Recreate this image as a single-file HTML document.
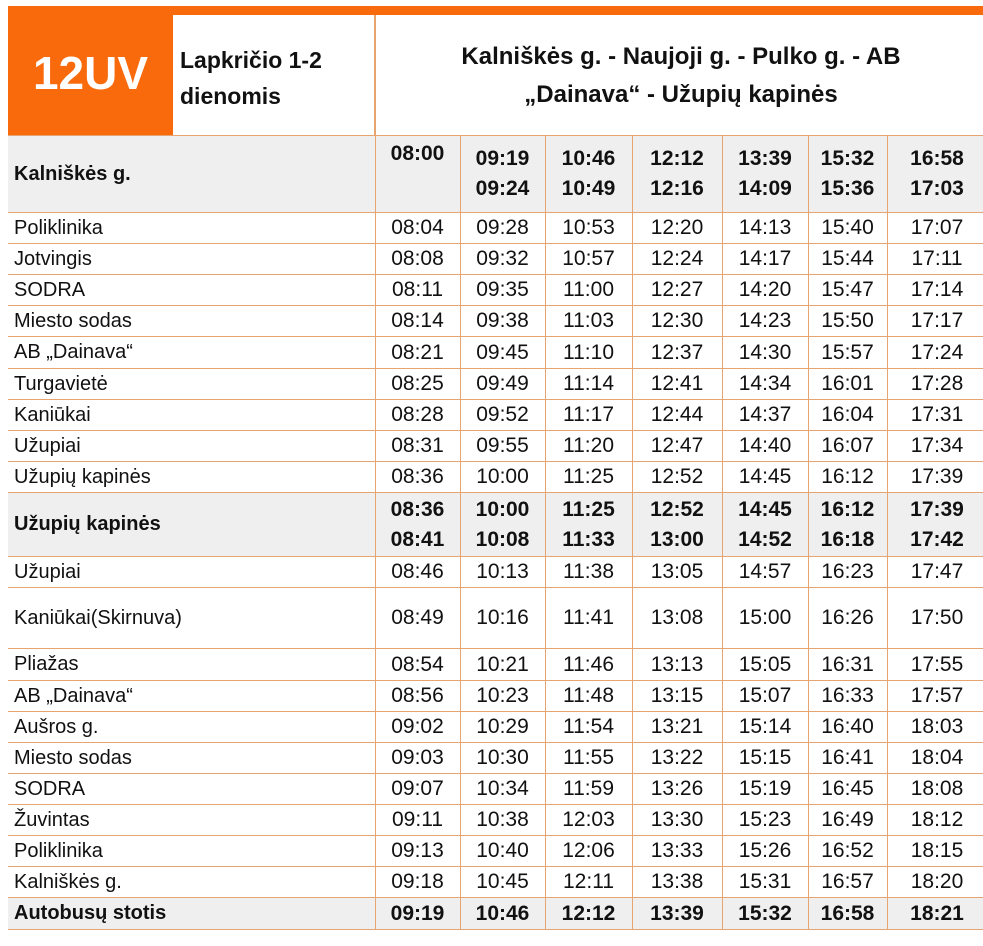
<!DOCTYPE html>
<html><head><meta charset="utf-8"><style>
body{margin:0;width:983px;height:946px;background:#fff;overflow:hidden;font-family:"Liberation Sans",Arial,sans-serif;color:#111;position:relative}
#bar{position:absolute;left:8px;top:6px;width:980px;height:9px;background:#f96a0c}
#logo{position:absolute;left:8px;top:15px;width:165px;height:120px;background:#f96a0c;color:#fff;font-weight:bold;font-size:46px;line-height:116px;text-align:center}
#sub{position:absolute;left:180px;top:42px;font-weight:bold;font-size:23px;line-height:36px}
#title{position:absolute;left:375px;top:38px;width:612px;text-align:center;font-weight:bold;font-size:24px;line-height:38px}
#vl{position:absolute;left:374px;top:15px;width:2px;height:120px;background:#e6a470}
table{position:absolute;left:8px;top:135px;width:979px;border-collapse:collapse;table-layout:fixed;font-size:21px}
td{border:1px solid #e6a470;padding:0;text-align:center;white-space:nowrap;overflow:hidden}
td:first-child{text-align:left;padding-left:6px;border-left:none;font-size:20px}
tr.g td{background:#efefef;font-weight:bold}
tr.g td div{line-height:30px}
</style></head><body>
<div id="bar"></div>
<div id="logo">12UV</div>
<div id="sub">Lapkričio 1-2<br>dienomis</div>
<div id="vl"></div>
<div id="title">Kalniškės g. - Naujoji g. - Pulko g. - AB<br>„Dainava“ - Užupių kapinės</div>
<table>
<colgroup><col style="width:367px"><col style="width:85px"><col style="width:85px"><col style="width:87px"><col style="width:90px"><col style="width:86px"><col style="width:79px"><col style="width:100px"></colgroup>
<tr class="g" style="height:77px"><td>Kalniškės g.</td><td style="vertical-align:top;padding-top:6px">08:00</td><td><div>09:19</div><div>09:24</div></td><td><div>10:46</div><div>10:49</div></td><td><div>12:12</div><div>12:16</div></td><td><div>13:39</div><div>14:09</div></td><td><div>15:32</div><div>15:36</div></td><td><div>16:58</div><div>17:03</div></td></tr>
<tr style="height:31px"><td>Poliklinika</td><td>08:04</td><td>09:28</td><td>10:53</td><td>12:20</td><td>14:13</td><td>15:40</td><td>17:07</td></tr>
<tr style="height:31px"><td>Jotvingis</td><td>08:08</td><td>09:32</td><td>10:57</td><td>12:24</td><td>14:17</td><td>15:44</td><td>17:11</td></tr>
<tr style="height:31px"><td>SODRA</td><td>08:11</td><td>09:35</td><td>11:00</td><td>12:27</td><td>14:20</td><td>15:47</td><td>17:14</td></tr>
<tr style="height:31px"><td>Miesto sodas</td><td>08:14</td><td>09:38</td><td>11:03</td><td>12:30</td><td>14:23</td><td>15:50</td><td>17:17</td></tr>
<tr style="height:32px"><td>AB „Dainava“</td><td>08:21</td><td>09:45</td><td>11:10</td><td>12:37</td><td>14:30</td><td>15:57</td><td>17:24</td></tr>
<tr style="height:31px"><td>Turgavietė</td><td>08:25</td><td>09:49</td><td>11:14</td><td>12:41</td><td>14:34</td><td>16:01</td><td>17:28</td></tr>
<tr style="height:31px"><td>Kaniūkai</td><td>08:28</td><td>09:52</td><td>11:17</td><td>12:44</td><td>14:37</td><td>16:04</td><td>17:31</td></tr>
<tr style="height:31px"><td>Užupiai</td><td>08:31</td><td>09:55</td><td>11:20</td><td>12:47</td><td>14:40</td><td>16:07</td><td>17:34</td></tr>
<tr style="height:31px"><td>Užupių kapinės</td><td>08:36</td><td>10:00</td><td>11:25</td><td>12:52</td><td>14:45</td><td>16:12</td><td>17:39</td></tr>
<tr class="g" style="height:64px"><td>Užupių kapinės</td><td><div>08:36</div><div>08:41</div></td><td><div>10:00</div><div>10:08</div></td><td><div>11:25</div><div>11:33</div></td><td><div>12:52</div><div>13:00</div></td><td><div>14:45</div><div>14:52</div></td><td><div>16:12</div><div>16:18</div></td><td><div>17:39</div><div>17:42</div></td></tr>
<tr style="height:31px"><td>Užupiai</td><td>08:46</td><td>10:13</td><td>11:38</td><td>13:05</td><td>14:57</td><td>16:23</td><td>17:47</td></tr>
<tr style="height:61px"><td>Kaniūkai(Skirnuva)</td><td>08:49</td><td>10:16</td><td>11:41</td><td>13:08</td><td>15:00</td><td>16:26</td><td>17:50</td></tr>
<tr style="height:32px"><td>Pliažas</td><td>08:54</td><td>10:21</td><td>11:46</td><td>13:13</td><td>15:05</td><td>16:31</td><td>17:55</td></tr>
<tr style="height:31px"><td>AB „Dainava“</td><td>08:56</td><td>10:23</td><td>11:48</td><td>13:15</td><td>15:07</td><td>16:33</td><td>17:57</td></tr>
<tr style="height:31px"><td>Aušros g.</td><td>09:02</td><td>10:29</td><td>11:54</td><td>13:21</td><td>15:14</td><td>16:40</td><td>18:03</td></tr>
<tr style="height:31px"><td>Miesto sodas</td><td>09:03</td><td>10:30</td><td>11:55</td><td>13:22</td><td>15:15</td><td>16:41</td><td>18:04</td></tr>
<tr style="height:31px"><td>SODRA</td><td>09:07</td><td>10:34</td><td>11:59</td><td>13:26</td><td>15:19</td><td>16:45</td><td>18:08</td></tr>
<tr style="height:31px"><td>Žuvintas</td><td>09:11</td><td>10:38</td><td>12:03</td><td>13:30</td><td>15:23</td><td>16:49</td><td>18:12</td></tr>
<tr style="height:31px"><td>Poliklinika</td><td>09:13</td><td>10:40</td><td>12:06</td><td>13:33</td><td>15:26</td><td>16:52</td><td>18:15</td></tr>
<tr style="height:31px"><td>Kalniškės g.</td><td>09:18</td><td>10:45</td><td>12:11</td><td>13:38</td><td>15:31</td><td>16:57</td><td>18:20</td></tr>
<tr class="g" style="height:32px"><td>Autobusų stotis</td><td>09:19</td><td>10:46</td><td>12:12</td><td>13:39</td><td>15:32</td><td>16:58</td><td>18:21</td></tr>
</table>
</body></html>
